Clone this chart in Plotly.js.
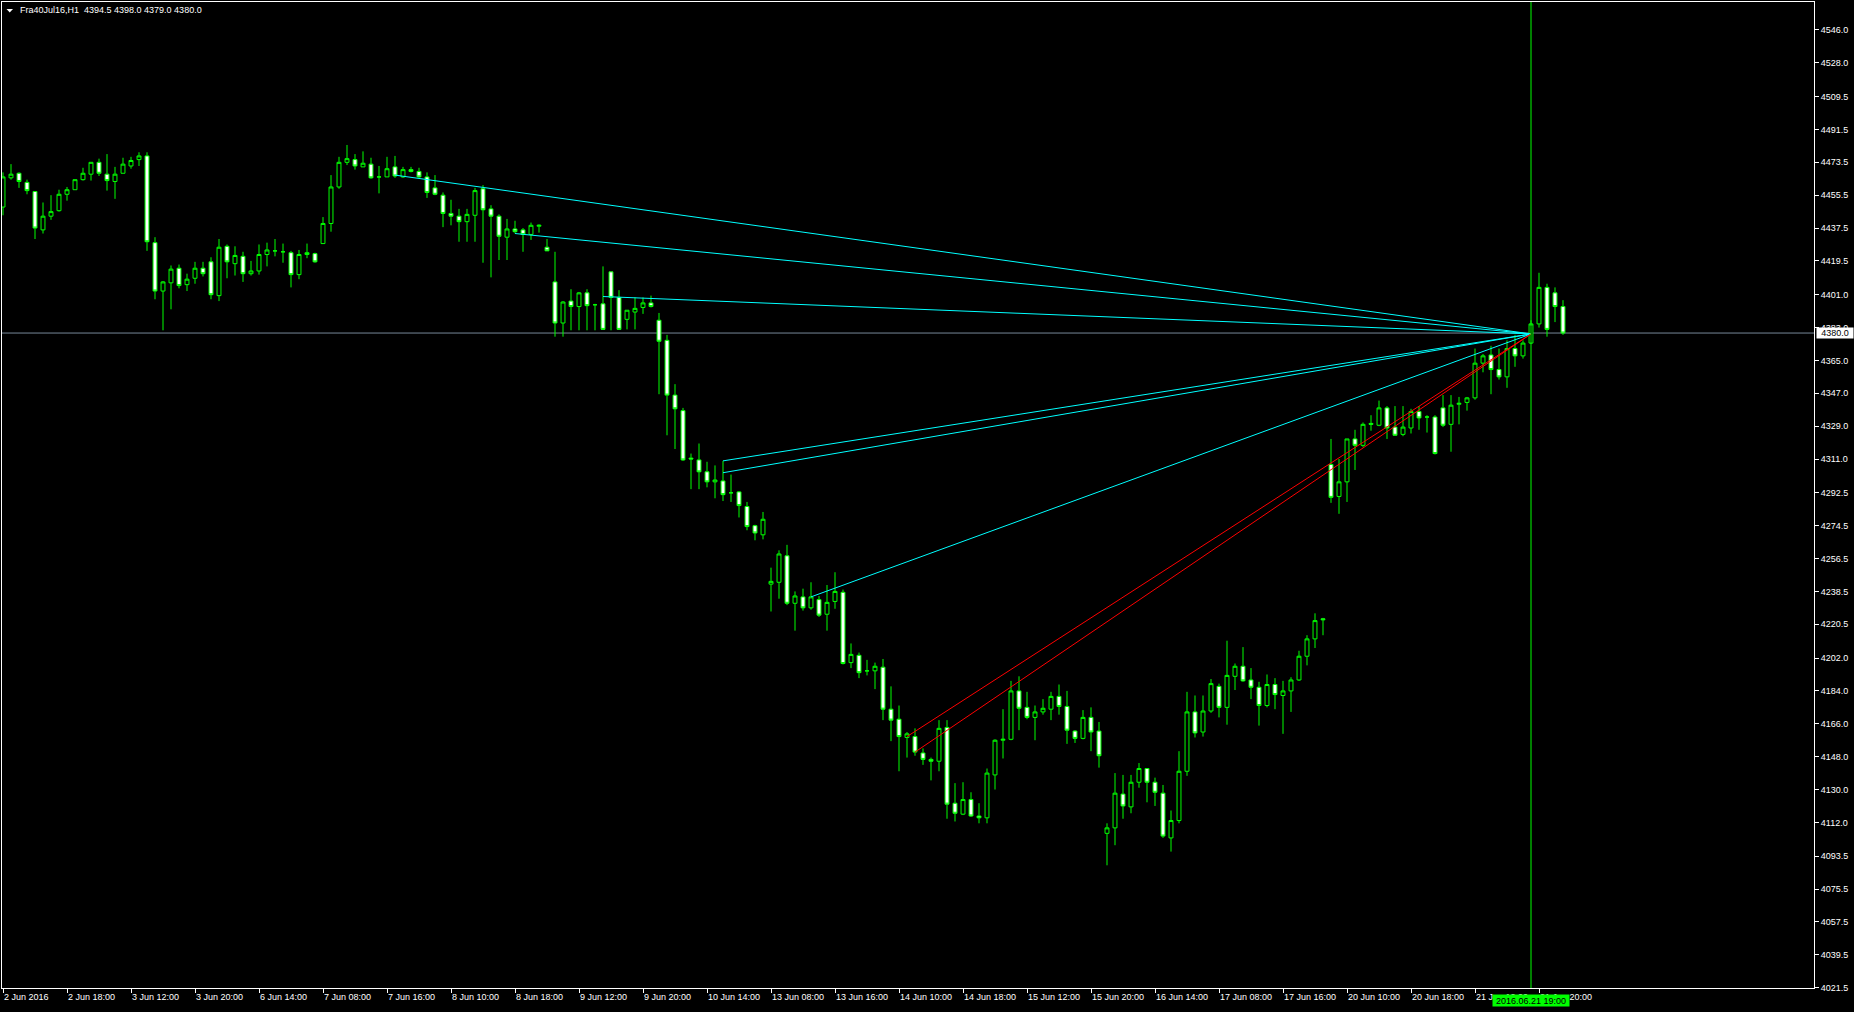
<!DOCTYPE html>
<html>
<head>
<meta charset="utf-8">
<script src="https://cdn.plot.ly/plotly-3.0.1.min.js"></script>
<style>
html,body{margin:0;padding:0;background:#000;overflow:hidden;}
#chart{width:1854px;height:1012px;}
</style>
</head>
<body>
<div id="chart"></div>
<script>
// ---------------- data ----------------
const symbol = "Fra40Jul16,H1";

const open = [4449,4465,4467.5,4462.5,4457.5,4436.5,4444,4447,4456,4458.5,
4464,4467,4473.5,4467,4463,4467.5,4471.5,4475,4477,4429.5,
4403,4407.5,4415.5,4406.5,4410,4415.5,4419,4400.5,4427.5,4418,
4422,4412.5,4414,4423,4425,4424.5,4424,4412,4423,4423.5,
4429,4440,4460,4473.5,4475,4471,4472.5,4465.5,4465.5,4471,
4465.5,4469.5,4468.5,4465.5,4459.5,4455.5,4445.5,4444,4441,4444.5,
4459,4448,4444,4432.5,4437,4436.5,4434,4438.5,4427,4408,
4385.5,4397.5,4394.5,4402,4395.5,4396,4413.5,4399.5,4387.5,4391.5,
4394,4396.5,4387,4376,4346,4337.5,4311.5,4310.5,4304,4298.5,
4299,4292.5,4293,4285,4274.5,4269.5,4242.5,4243.5,4258,4232,
4235.5,4229.5,4234,4226,4233,4238,4199.5,4203.5,4195,4195,
4197,4174,4168.5,4158.5,4159,4150,4146.5,4145.5,4164,4122.5,
4116.5,4124.5,4115.5,4114.5,4138,4157,4157.5,4184,4175,4169.5,
4172.5,4174,4181,4175.5,4162,4158,4169.5,4162,4106,4109,
4127.5,4120.5,4134,4141.5,4134,4128,4103.5,4113,4140,4172.5,
4161.5,4173,4186.5,4175,4192,4197.5,4190,4186,4176,4187.5,
4181.5,4184,4190,4203,4212.5,4223.5,4308,4290.5,4298.5,4322,
4318.5,4330.5,4329.5,4339,4328.5,4324.5,4328,4337,4334,4334,
4339,4330,4341,4342,4344.5,4363.5,4368,4360,4356,4371.5,
4367.5,4374.5,4385,4405,4402,4394.5];

const high = [4468,4472.5,4468,4464,4457.5,4451.5,4455.5,4458.5,4460,4464,
4470.5,4473.5,4475.5,4478,4471,4476,4476.5,4479,4479,4432.5,
4408.5,4417,4417.5,4412.5,4419,4419,4421.5,4431.5,4428.5,4427.5,
4424.5,4419.5,4428.5,4429.5,4431.5,4429,4425,4425.5,4429,4424,
4443.5,4466.5,4476.5,4483,4478,4479.5,4476,4471.5,4476.5,4477,
4471,4471,4470.5,4468,4466.5,4457,4453,4448,4448,4459.5,
4461,4450,4445,4442.5,4441.5,4437.5,4440.5,4439.5,4431.5,4424.5,
4397.5,4404,4402.5,4404,4396,4416.5,4413.5,4403.5,4392.5,4399.5,
4399.5,4400.5,4391,4379,4352,4339,4314,4319.5,4309.5,4307.5,
4310,4302.5,4293.5,4287.5,4275,4282,4251.5,4261,4264,4238.5,
4240,4243.5,4236,4242,4249,4239.5,4210,4205,4201,4199.5,
4201.5,4186.5,4176,4161.5,4163.5,4152.5,4147.5,4168,4168,4133.5,
4134,4128.5,4122.5,4141.5,4157.5,4174,4189.5,4192,4183.5,4176,
4179.5,4183.5,4187.5,4184,4162.5,4173.5,4175,4167,4111.5,4139,
4138,4138,4144.5,4141.5,4136.5,4132.5,4118.5,4151,4183.5,4181.5,
4181.5,4190.5,4188,4211.5,4199,4208,4196.5,4189,4193,4191,
4189.5,4191.5,4206,4214.5,4226.5,4224,4322,4311,4322,4327,
4331,4335,4343,4340,4340,4340,4338.5,4340,4335,4335,
4346,4346,4345,4345,4371.5,4368.5,4373,4371.5,4376,4379,
4376,4387,4413,4407,4405,4398];

const low = [4444.5,4464,4459.5,4456,4431.5,4434.5,4442,4446.5,4452.5,4458.5,
4463.5,4463.5,4466,4458,4453.5,4467.5,4470,4471.5,4425,4398.5,
4381.5,4393,4404.5,4403,4407,4411,4398.5,4397.5,4410,4411.5,
4408,4411.5,4412,4416.5,4422,4418.5,4405,4409.5,4421,4418.5,
4429,4435.5,4459,4472,4469.5,4471,4464.5,4456.5,4465.5,4465,
4465,4468,4465,4454,4455.5,4438,4439,4430,4430,4430,
4418.5,4410.5,4420,4420,4434.5,4424.5,4431,4435,4425,4378,
4378,4381.5,4381.5,4381.5,4381.5,4382,4381.5,4382,4382,4382,
4390.5,4394,4346.5,4324,4316.5,4310,4294.5,4294.5,4295.5,4289.5,
4288,4287.5,4279,4272,4266.5,4267,4227.5,4234.5,4231,4217,
4228,4228.5,4224.5,4217,4229,4198.5,4196.5,4191,4192.5,4185,
4168,4156.5,4140,4147.5,4148.5,4143.5,4135,4140,4114,4112.5,
4116,4115,4111.5,4111.5,4130,4147,4157,4162.5,4168.5,4157,
4171,4168,4171,4155,4155.5,4157.5,4151,4142,4088.5,4099.5,
4114,4117,4131,4123,4121,4103.5,4096,4111.5,4137.5,4158.5,
4159,4172,4169.5,4165.5,4184.5,4189,4179.5,4165,4175,4174,
4160.5,4172.5,4189.5,4198,4207.5,4214.5,4287,4281,4287.5,4305,
4317.5,4326.5,4329,4322,4324,4323.5,4325,4327,4325.5,4313.5,
4328.5,4315,4330,4337.5,4343.5,4358.5,4346.5,4354.5,4350,4361.5,
4366,4374,4383,4378,4386,4379];

const close = [4465.5,4467,4463,4458,4437.5,4444,4446.5,4456,4458.5,4464,
4467.5,4473.5,4467.5,4463.5,4467,4472.5,4474.5,4477,4430,4403,
4408,4415,4406,4409.5,4415.5,4412.5,4401,4427,4419,4422.5,
4412.5,4414,4423,4425.5,4425,4424.5,4412,4423,4424,4419,
4440,4460,4473.5,4475.5,4471.5,4473,4465,4465.5,4470,4466,
4469.5,4468.5,4465.5,4457,4456,4445.5,4444,4441,4445,4458,
4447.5,4444,4433,4437,4435.5,4434,4439,4439,4425,4385.5,
4397,4394.5,4402,4395,4395.5,4382,4399.5,4382,4392.5,4393.5,
4396.5,4394.5,4375.5,4346,4338.5,4310.5,4311,4304,4298.5,4299.5,
4291.5,4292.5,4285.5,4274,4270.5,4278,4244,4259,4232,4236,
4229.5,4235.5,4225.5,4232.5,4238.5,4199,4204,4194,4195,4197.5,
4174,4168,4159,4160.5,4150.5,4146.5,4145.5,4163.5,4122,4117,
4124.5,4115.5,4114.5,4139,4157,4157.5,4184,4174.5,4169.5,4172.5,
4174.5,4181,4175.5,4162.5,4158,4169.5,4161.5,4148.5,4109,4128,
4121,4134,4141.5,4134,4128.5,4104.5,4113,4140,4172.5,4161,
4173,4188,4175,4192.5,4197.5,4189.5,4186,4176,4187.5,4182,
4184,4190,4203,4212.5,4222.5,4223,4290,4298.5,4322,4318.5,
4330,4330,4339,4328,4324,4328.5,4337,4333.5,4334,4314,
4329.5,4340.5,4341.5,4344.5,4363.5,4367.5,4360,4356,4371.5,4367.5,
4374.5,4385,4405,4382,4394.5,4380];

// time-axis labels (one every 8 hourly bars)
const xTickBars = [0,8,16,24,32,40,48,56,64,72,80,88,96,104,112,120,128,136,144,152,160,168,176,184,192];
const xTickLabels = ["2 Jun 2016","2 Jun 18:00","3 Jun 12:00","3 Jun 20:00","6 Jun 14:00","7 Jun 08:00",
"7 Jun 16:00","8 Jun 10:00","8 Jun 18:00","9 Jun 12:00","9 Jun 20:00","10 Jun 14:00","13 Jun 08:00",
"13 Jun 16:00","14 Jun 10:00","14 Jun 18:00","15 Jun 12:00","15 Jun 20:00","16 Jun 14:00","17 Jun 08:00",
"17 Jun 16:00","20 Jun 10:00","20 Jun 18:00","21 Jun 12:00","21 Jun 20:00"];

// price-axis labels
const yTickValues = [4546.0,4528.0,4509.5,4491.5,4473.5,4455.5,4437.5,4419.5,4401.0,4383.0,
4365.0,4347.0,4329.0,4311.0,4292.5,4274.5,4256.5,4238.5,4220.5,4202.0,4184.0,4166.0,4148.0,
4130.0,4112.0,4093.5,4075.5,4057.5,4039.5,4021.5];

const bidPrice = 4380.0;
const cursorBar = 191;
const cursorLabel = "2016.06.21 19:00";

// trend lines (fan) : start bar/price -> end bar/price
const lineStartBar   = [49, 64, 75, 90, 90, 101, 113, 114];
const lineStartPrice = [4466.5, 4434.5, 4400.0, 4310.0, 4303.5, 4235.5, 4159.0, 4150.5];
const lineEndBar     = [191, 191, 191, 191, 191, 191, 191, 191];
const lineEndPrice   = [4379.5, 4379.5, 4379.5, 4379.5, 4379.5, 4379.5, 4379.5, 4379.5];
const lineColor      = ["#00FFFF","#00FFFF","#00FFFF","#00FFFF","#00FFFF","#00FFFF","#FF0000","#FF0000"];

// ---------------- chart ----------------
const FONT = "'Liberation Sans', Arial, sans-serif";
const FS = 9;
const GREEN = "#00FF00";
const barIndex = open.map((_, i) => i);

const traces = [{
  type: 'candlestick',
  x: barIndex, open: open, high: high, low: low, close: close,
  increasing: {line: {color: GREEN, width: 1}, fillcolor: '#000000'},
  decreasing: {line: {color: GREEN, width: 1}, fillcolor: '#FFFFFF'},
  whiskerwidth: 0,
  hoverinfo: 'skip',
  showlegend: false
}];

for (let k = 0; k < lineStartBar.length; k++) {
  traces.push({
    type: 'scatter', mode: 'lines',
    x: [lineStartBar[k], lineEndBar[k]],
    y: [lineStartPrice[k], lineEndPrice[k]],
    line: {color: lineColor[k], width: 1},
    hoverinfo: 'skip', showlegend: false
  });
}

// pixel helpers for paper-positioned decorations
const PL = 2, PT = 2, PW = 1812, PH = 986;
const px = v => (v - PL) / PW;
const py = v => 1 - (v - PT) / PH;

const n = close.length - 1;
const titleText = symbol + "\u00a0\u00a0" + open[n].toFixed(1) + " " + high[n].toFixed(1) + " " +
                  low[n].toFixed(1) + " " + close[n].toFixed(1);

const layout = {
  width: 1854, height: 1012,
  paper_bgcolor: '#000000', plot_bgcolor: '#000000',
  margin: {l: 2, r: 40, t: 2, b: 24},
  showlegend: false,
  hovermode: false,
  dragmode: false,
  font: {family: FONT, size: FS, color: '#FFFFFF'},
  boxgap: 0.3, boxgroupgap: 0.3,
  xaxis: {
    range: [-0.125, 226.375],
    fixedrange: true,
    rangeslider: {visible: false},
    showgrid: false, zeroline: false,
    showline: true, linecolor: '#FFFFFF', linewidth: 1, mirror: true,
    tickmode: 'array', tickvals: xTickBars, ticktext: xTickLabels,
    ticks: 'outside', ticklen: 4, tickwidth: 1, tickcolor: '#FFFFFF',
    tickangle: 0,
    ticklabelposition: 'outside right',
    tickfont: {family: FONT, size: FS, color: '#FFFFFF'}
  },
  yaxis: {
    side: 'right',
    range: [4021.3, 4561.3],
    fixedrange: true,
    showgrid: false, zeroline: false,
    showline: true, linecolor: '#FFFFFF', linewidth: 1, mirror: true,
    tickmode: 'array', tickvals: yTickValues, ticktext: yTickValues.map(v => v.toFixed(1)),
    ticks: 'outside', ticklen: 4, tickwidth: 1, tickcolor: '#FFFFFF',
    tickfont: {family: FONT, size: FS, color: '#FFFFFF'}
  },
  shapes: [
    {type: 'line', xref: 'paper', yref: 'y', x0: 0, x1: 1, y0: bidPrice, y1: bidPrice,
     line: {color: '#778899', width: 1}, layer: 'below'},
    {type: 'line', xref: 'x', yref: 'paper', x0: cursorBar, x1: cursorBar, y0: 0, y1: 1,
     line: {color: GREEN, width: 1}, layer: 'above'},
    {type: 'path', xref: 'paper', yref: 'paper',
     path: 'M ' + px(6.5) + ',' + py(9) + ' L ' + px(13) + ',' + py(9) + ' L ' + px(9.75) + ',' + py(12.5) + ' Z',
     fillcolor: '#FFFFFF', line: {width: 0}}
  ],
  annotations: [
    {xref: 'paper', yref: 'paper', x: px(18), y: py(10.5), xanchor: 'left', yanchor: 'middle',
     text: titleText, showarrow: false, font: {family: FONT, size: FS, color: '#FFFFFF'}},
    {xref: 'paper', yref: 'y', x: 1, xshift: 21, y: bidPrice, xanchor: 'center', yanchor: 'middle',
     text: bidPrice.toFixed(1), showarrow: false, bgcolor: '#FFFFFF', width: 36, height: 10, borderpad: 0,
     font: {family: FONT, size: FS, color: '#000000'}},
    {xref: 'x', yref: 'paper', x: cursorBar, y: 0, yshift: -12, xanchor: 'center', yanchor: 'middle',
     text: cursorLabel, showarrow: false, bgcolor: GREEN, width: 76, height: 11, borderpad: 0,
     font: {family: FONT, size: FS, color: '#000000'}}
  ]
};

Plotly.newPlot('chart', traces, layout, {displayModeBar: false, staticPlot: true});
</script>
</body>
</html>
